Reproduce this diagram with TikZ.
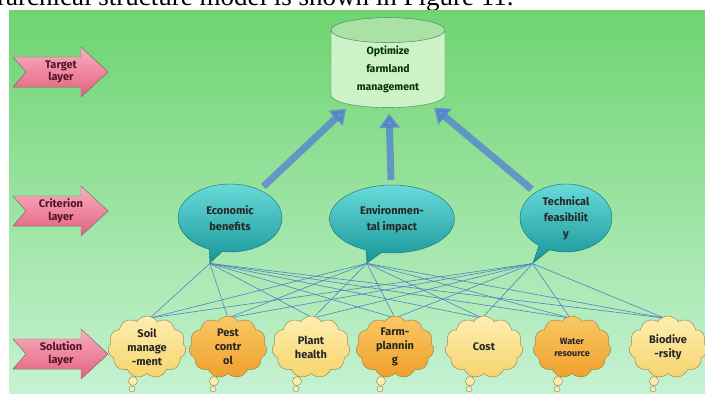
\documentclass[tikz,border=0pt]{standalone}
\usepackage{fontspec}
\setmainfont{Fira Sans}
\newfontfamily\pagefont{Liberation Serif}
\usetikzlibrary{shapes.geometric,shapes.symbols,shapes.callouts,arrows.meta}

\definecolor{bgtop}{RGB}{110,212,112}
\definecolor{bgmid}{RGB}{150,224,140}
\definecolor{bgbot}{RGB}{198,242,210}
\definecolor{pinktop}{RGB}{250,175,190}
\definecolor{pinkbot}{RGB}{226,96,128}
\definecolor{pinkline}{RGB}{140,110,110}
\definecolor{pinktext}{RGB}{80,20,40}
\definecolor{goalbody}{RGB}{205,242,200}
\definecolor{goalend}{RGB}{170,226,165}
\definecolor{goalline}{RGB}{80,120,90}
\definecolor{crittop}{RGB}{105,218,218}
\definecolor{critbot}{RGB}{22,150,152}
\definecolor{critline}{RGB}{30,105,115}
\definecolor{soltop}{RGB}{253,238,175}
\definecolor{solbot}{RGB}{247,212,110}
\definecolor{dsoltop}{RGB}{250,200,100}
\definecolor{dsolbot}{RGB}{240,160,45}
\definecolor{solline}{RGB}{130,130,80}
\definecolor{linkblue}{RGB}{80,130,195}
\definecolor{arrowblue}{RGB}{80,120,215}

\tikzset{
  layerarrow/.style={draw=pinkline, thin, top color=pinktop, bottom color=pinkbot},
  layertext/.style={align=center, text=pinktext, font=\bfseries\fontsize{11}{12.5}\selectfont},
  goal/.style={cylinder, shape border rotate=90, aspect=0.4, draw=goalline,
    minimum height=90pt, minimum width=114pt, inner sep=0pt,
    cylinder uses custom fill, cylinder body fill=goalbody, cylinder end fill=goalend,
    align=center, text=black!80!green, font=\bfseries\fontsize{10.5}{18}\selectfont},
  crit/.style={ellipse callout, draw=critline, top color=crittop, bottom color=critbot,
    minimum height=68pt, inner sep=0pt, align=center, text=black!85,
    font=\bfseries\fontsize{11}{16}\selectfont},
  sol/.style={cloud, cloud puffs=11, cloud puff arc=115, aspect=1.25, draw=solline,
    minimum width=78pt, minimum height=62pt, inner sep=0pt, align=center,
    text=black!85, font=\bfseries\fontsize{11}{14}\selectfont},
  lightsol/.style={sol, top color=soltop, bottom color=solbot},
  darksol/.style={sol, top color=dsoltop, bottom color=dsolbot},
  tail/.style={draw=solline, fill=soltop},
  link/.style={draw=linkblue, line width=0.6pt},
  bigarrow/.style={draw=arrowblue, opacity=0.7, line width=7pt,
    -{Triangle[width=20pt,length=14pt]}, shorten <=5pt, shorten >=6pt}
}

\begin{document}
\begin{tikzpicture}[x=1pt, y=-1pt]
\useasboundingbox (0,0) rectangle (705,394);

% page text and background
\node[anchor=base west, inner sep=0pt, font=\pagefont\fontsize{27}{30}\selectfont] (caption) at (-3,5) {rarchical structure model is shown in Figure 11.};
\shade[top color=bgtop, middle color=bgmid, bottom color=bgbot] (9,10) rectangle (705,394);

% layer arrows
\foreach \y/\txt/\name in {72/{Target\\layer}/target, 211/{Criterion\\layer}/criterion, 354/{Solution\\layer}/solution} {
  \filldraw[layerarrow] (13,\y-15) -- (81,\y-15) -- (81,\y-25) -- (108,\y) -- (81,\y+25)
    -- (81,\y+15) -- (13,\y+15) -- (26,\y) -- cycle;
  \node[layertext] (\name) at (61,\y) {\txt};
}

% target
\node[goal] (goal) at (388,69) {Optimize\\farmland\\management};

% criteria
\node[crit, minimum width=104pt, callout absolute pointer={(210,263)}] (eco) at (230,218) {Economic\\benefits};
\node[crit, minimum width=125pt, callout absolute pointer={(367,263)}] (env) at (392,219) {Environmen-\\tal impact};
\node[crit, minimum width=92pt, callout absolute pointer={(533,263)}] (tech) at (566,218) {Technical\\feasibilit\\y};

\draw[bigarrow] (eco) -- (goal);
\draw[bigarrow] (env) -- (goal);
\draw[bigarrow] (tech) -- (goal);

% solutions
\foreach \x/\name in {147/soil, 228/pest, 311/plant, 395/farm, 484/cost, 572/water, 668/bio} {
  \filldraw[tail] (\x-14,381) circle (4.5);
  \filldraw[tail] (\x-15,389) circle (3);
}
\foreach \c in {eco, env, tech}
  \foreach \s/\xs in {soil/150, pest/228, plant/313, farm/395, cost/482, water/570, bio/664}
    \draw[link] (\c.pointer) -- (\xs,318);

\node[lightsol] (soil) at (147,347) {Soil\\manage\\-ment};
\node[darksol] (pest) at (228,347) {Pest\\contr\\ol};
\node[lightsol] (plant) at (311,347) {Plant\\health};
\node[darksol] (farm) at (395,347) {Farm-\\plannin\\g};
\node[lightsol] (cost) at (484,347) {Cost};
\node[darksol, font=\bfseries\fontsize{9}{12}\selectfont] (water) at (572,347) {Water\\resource};
\node[lightsol] (bio) at (668,347) {Biodive\\-rsity};
\end{tikzpicture}
\end{document}
